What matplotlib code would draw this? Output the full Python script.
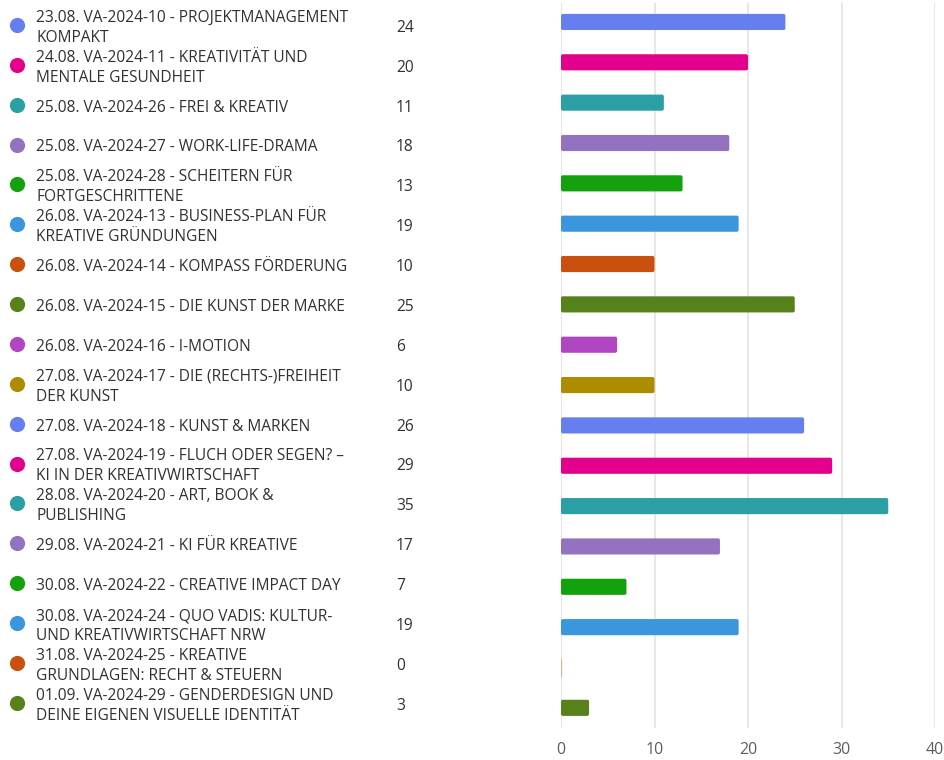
import matplotlib
matplotlib.use("Agg")
import matplotlib.pyplot as plt
from matplotlib.patches import FancyBboxPatch
from matplotlib.transforms import blended_transform_factory

labels = [
    "23.08. VA-2024-10 - PROJEKTMANAGEMENT\nKOMPAKT",
    "24.08. VA-2024-11 - KREATIVITÄT UND\nMENTALE GESUNDHEIT",
    "25.08. VA-2024-26 - FREI & KREATIV",
    "25.08. VA-2024-27 - WORK-LIFE-DRAMA",
    "25.08. VA-2024-28 - SCHEITERN FÜR\nFORTGESCHRITTENE",
    "26.08. VA-2024-13 - BUSINESS-PLAN FÜR\nKREATIVE GRÜNDUNGEN",
    "26.08. VA-2024-14 - KOMPASS FÖRDERUNG",
    "26.08. VA-2024-15 - DIE KUNST DER MARKE",
    "26.08. VA-2024-16 - I-MOTION",
    "27.08. VA-2024-17 - DIE (RECHTS-)FREIHEIT\nDER KUNST",
    "27.08. VA-2024-18 - KUNST & MARKEN",
    "27.08. VA-2024-19 - FLUCH ODER SEGEN? –\nKI IN DER KREATIVWIRTSCHAFT",
    "28.08. VA-2024-20 - ART, BOOK &\nPUBLISHING",
    "29.08. VA-2024-21 - KI FÜR KREATIVE",
    "30.08. VA-2024-22 - CREATIVE IMPACT DAY",
    "30.08. VA-2024-24 - QUO VADIS: KULTUR-\nUND KREATIVWIRTSCHAFT NRW",
    "31.08. VA-2024-25 - KREATIVE\nGRUNDLAGEN: RECHT & STEUERN",
    "01.09. VA-2024-29 - GENDERDESIGN UND\nDEINE EIGENEN VISUELLE IDENTITÄT",
]
values = [24, 20, 11, 18, 13, 19, 10, 25, 6, 10, 26, 29, 35, 17, 7, 19, 0, 3]
palette = ["#6580EE", "#E3008C", "#2AA0A4", "#9373C0", "#13A10E",
           "#3A96DD", "#CA5010", "#57811B", "#B146C2", "#AE8C00"]
xticks = [0, 10, 20, 30, 40]

colors = [palette[i % len(palette)] for i in range(len(values))]

W, H = 944, 760
fig = plt.figure(figsize=(W / 100, H / 100), dpi=100)
fig.patch.set_facecolor("white")
ax = fig.add_axes([561 / W, 1 - 728 / H, 374 / W, 725 / H])

font = "Open Sans"
txtcol = "#323130"

n = len(values)
ypos = list(range(n))
bars = ax.barh(ypos, values, height=0.40, color=colors, zorder=3)
# replace rectangles with rounded ones
for b, c in zip(bars, colors):
    x0, y0 = b.get_x(), b.get_y()
    w, h = b.get_width(), b.get_height()
    b.set_visible(False)
    if w > 0:
        p = FancyBboxPatch((x0, y0), w, h,
                           boxstyle="round,pad=0,rounding_size=0.2",
                           mutation_aspect=0.24, facecolor=c,
                           edgecolor="none", zorder=3)
        ax.add_patch(p)
    else:
        ax.plot([0.05, 0.05], [y0, y0 + h], color=c, alpha=0.35, lw=1, zorder=3)

ax.set_xlim(0, 40)
ax.set_ylim(17.5, -0.47)
ax.set_xticks(xticks)
ax.set_xticklabels([str(t) for t in xticks], fontsize=11.5, color="#605E5C",
                   family=font)
ax.set_yticks([])
ax.tick_params(axis="x", length=0, pad=10)
for s in ax.spines.values():
    s.set_visible(False)
ax.grid(axis="x", color="#E6E5E4", lw=1.3, zorder=0)
ax.axvline(0, color="#E6E5E4", lw=1.3, zorder=1)

tr = blended_transform_factory(fig.transFigure, ax.transData)
for i, (lab, v, c) in enumerate(zip(labels, values, colors)):
    ly = 0.074 + i * 0.9884
    ax.scatter([17 / W], [ly], s=120, color=c, transform=tr, clip_on=False,
               zorder=5, linewidths=0)
    ax.text(36 / W, ly + 0.07, lab, transform=tr, ha="left", va="center",
            fontsize=11.2, color=txtcol, family=font, linespacing=1.32,
            clip_on=False)
    ax.text(396 / W, ly + 0.07, str(v), transform=tr, ha="left", va="center",
            fontsize=11.2, color=txtcol, family=font, clip_on=False)

fig.savefig("out.png", dpi=100, facecolor="white")
